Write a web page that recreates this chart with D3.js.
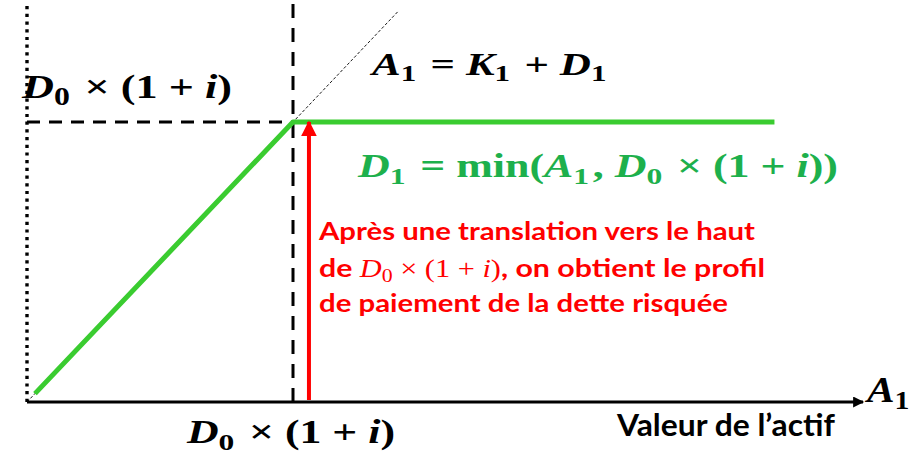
<!DOCTYPE html>
<html><head><meta charset="utf-8">
<script src="https://cdn.jsdelivr.net/npm/d3@7"></script>
<style>html,body{margin:0;padding:0;background:#fff;}</style>
</head><body><svg id="c" width="924" height="454"></svg>
<script>
// ---- data (in units of D0 x (1+i)) ----
const strike = 1;                       // D0 x (1+i)
const payoffX = [0.03, 1, 2.81];        // asset value A1
const payoffY = [0.03, 1, 1];           // debt payoff D1
const diagX = [0, 1.395];               // A1 = K1 + D1 line
const axisMaxX = 3.143;
const axisMaxY = 1.425;
const arrowX = 1.06;                    // red translation arrow position
const redLines = ["Après une translation vers le haut", "de paiement de la dette risquée"];

const svg = d3.select("#c");
const x = d3.scaleLinear().domain([0, 1]).range([27, 293]);
const y = d3.scaleLinear().domain([0, 1]).range([402, 122]);

const defs = svg.append("defs");
defs.append("marker").attr("id","ax").attr("viewBox","0 0 10 10").attr("refX",9).attr("refY",5)
  .attr("markerWidth",12).attr("markerHeight",11).attr("markerUnits","userSpaceOnUse").attr("orient","auto")
  .append("path").attr("d","M0,0L10,5L0,10Z").attr("fill","#000");
defs.append("marker").attr("id","rd").attr("viewBox","0 0 10 10").attr("refX",9).attr("refY",5)
  .attr("markerWidth",16).attr("markerHeight",16).attr("markerUnits","userSpaceOnUse").attr("orient","auto")
  .append("path").attr("d","M0,0L10,5L0,10Z").attr("fill","#ff0000");

const line = d3.line().x(d=>x(d[0])).y(d=>y(d[1]));

// y axis dotted
svg.append("line").attr("x1",x(0)).attr("x2",x(0)).attr("y1",y(0)).attr("y2",y(axisMaxY))
  .attr("stroke","#000").attr("stroke-width",3.4).attr("stroke-linecap","butt").attr("stroke-dasharray","3.2,4.5");
// diagonal thin dashed
svg.append("path").attr("d", line(diagX.map(v=>[v,v]))).attr("stroke","#000").attr("stroke-width",0.9)
  .attr("stroke-dasharray","3,2").attr("fill","none");
// dashed guides
svg.append("line").attr("x1",x(strike)).attr("x2",x(strike)).attr("y1",y(0)).attr("y2",y(axisMaxY)+1)
  .attr("stroke","#000").attr("stroke-width",3).attr("stroke-dasharray","14,10");
svg.append("line").attr("x1",x(0)).attr("x2",x(strike)).attr("y1",y(strike)).attr("y2",y(strike))
  .attr("stroke","#000").attr("stroke-width",3).attr("stroke-dasharray","13,9");
// x axis
svg.append("line").attr("x1",x(0)).attr("x2",x(axisMaxX)).attr("y1",y(0)).attr("y2",y(0))
  .attr("stroke","#000").attr("stroke-width",3).attr("marker-end","url(#ax)");
// green payoff
svg.append("path").attr("d", line(payoffX.map((v,i)=>[v,payoffY[i]]))).attr("stroke","#3ACC30")
  .attr("stroke-width",5).attr("fill","none").attr("stroke-linejoin","round");
// red arrow
svg.append("line").attr("x1",x(arrowX)).attr("x2",x(arrowX)).attr("y1",y(0)-2).attr("y2",y(strike))
  .attr("stroke","#ff0000").attr("stroke-width",4).attr("marker-end","url(#rd)");

// math text helper
const MF = "'Liberation Serif','DejaVu Serif',serif";
function math(parent, parts, px, py, size, color, width){
  const t = parent.append("text").attr("x",px).attr("y",py).attr("fill",color)
    .attr("font-family",MF).attr("font-weight","bold").attr("font-size",size);
  if (width) t.attr("textLength",width).attr("lengthAdjust","spacingAndGlyphs");
  parts.forEach(p=>{
    const s = t.append("tspan").text(p.t);
    if (p.i) s.attr("font-style","italic");
    if (p.sub){ s.attr("font-size",size*0.72).attr("dy",size*0.2); t.append("tspan").attr("dy",-size*0.2).text("\u200A"); }
  });
  return t;
}
const D0 = [{t:"D",i:true},{t:"0",sub:true},{t:" × (1 + "},{t:"i",i:true},{t:")"}];

math(svg, D0, 22, 98, 34, "#000", 210);
math(svg, [{t:"A",i:true},{t:"1",sub:true},{t:" = "},{t:"K",i:true},{t:"1",sub:true},{t:" + "},{t:"D",i:true},{t:"1",sub:true}], 372, 75, 31, "#000", 238);
math(svg, [{t:"D",i:true},{t:"1",sub:true},{t:" = min("},{t:"A",i:true},{t:"1",sub:true},{t:", "},{t:"D",i:true},{t:"0",sub:true},{t:" × (1 + "},{t:"i",i:true},{t:"))"}], 358, 177, 33, "#1DB04C", 480);
math(svg, D0, 187, 443, 33, "#000", 208);
math(svg, [{t:"A",i:true},{t:"1",sub:true}], 867, 402, 36, "#000", 46);

const SF = "Lato,'Open Sans',sans-serif";
svg.append("text").attr("x",617).attr("y",436).attr("font-family",SF).attr("font-weight","bold")
  .attr("font-size",30).attr("fill","#000").attr("textLength",218).attr("lengthAdjust","spacingAndGlyphs")
  .text("Valeur de l’actif");

// red explanation
svg.append("text").attr("x",319).attr("y",240).attr("font-family",SF).attr("font-weight","bold")
  .attr("font-size",25).attr("fill","#ff0000").attr("textLength",436).attr("lengthAdjust","spacingAndGlyphs")
  .text(redLines[0]);
const l2 = svg.append("text").attr("x",319).attr("y",277).attr("fill","#ff0000").attr("font-size",25)
  .attr("font-family",SF).attr("font-weight","bold").attr("textLength",446).attr("lengthAdjust","spacingAndGlyphs");
l2.append("tspan").text("de ");
l2.append("tspan").attr("font-family",MF).attr("font-style","italic").attr("font-weight","normal").text("D");
l2.append("tspan").attr("font-family",MF).attr("font-weight","normal").attr("font-size",18).attr("dy",5).text("0");
l2.append("tspan").attr("font-family",MF).attr("font-weight","normal").attr("dy",-5).text(" × (1 + ");
l2.append("tspan").attr("font-family",MF).attr("font-style","italic").attr("font-weight","normal").text("i");
l2.append("tspan").attr("font-family",MF).attr("font-weight","normal").text(")");
l2.append("tspan").text(", on obtient le profil");
svg.append("text").attr("x",319).attr("y",312).attr("font-family",SF).attr("font-weight","bold")
  .attr("font-size",25).attr("fill","#ff0000").attr("textLength",409).attr("lengthAdjust","spacingAndGlyphs")
  .text(redLines[1]);
</script></body></html>
